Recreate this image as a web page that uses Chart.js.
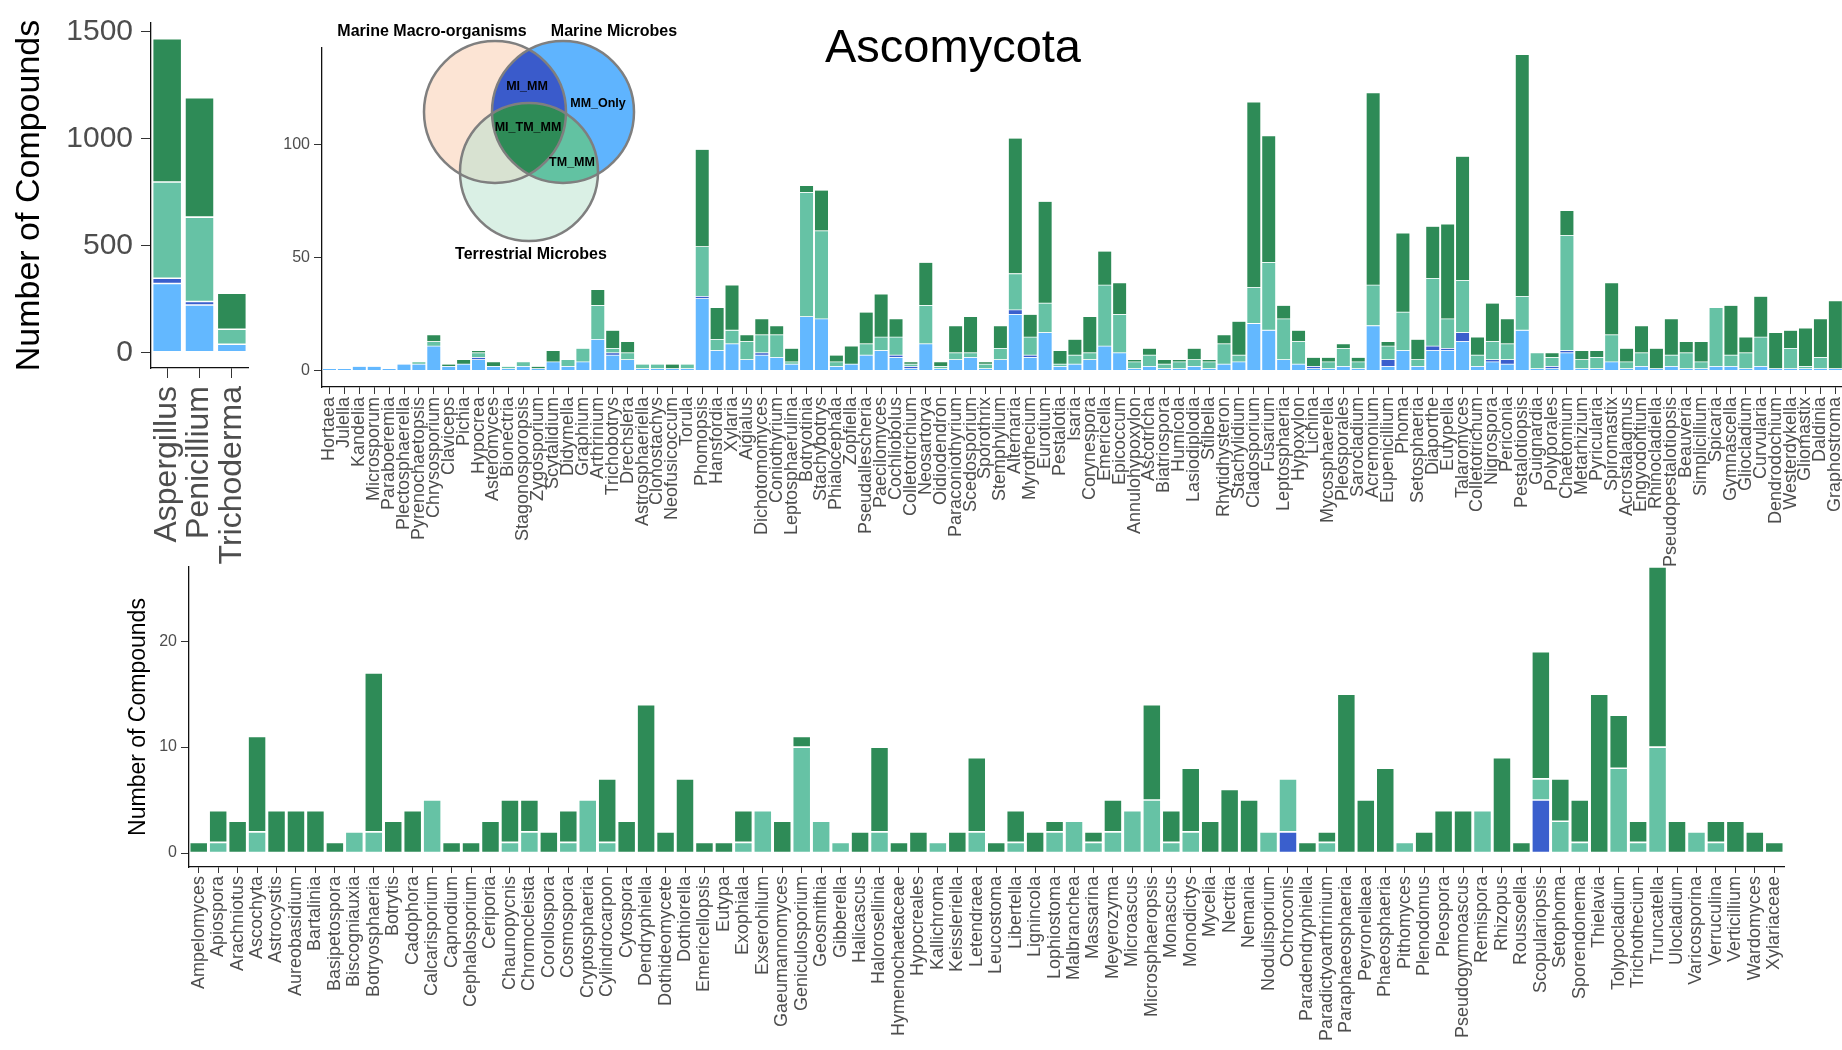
<!DOCTYPE html>
<html>
<head>
<meta charset="utf-8">
<script src="https://cdn.jsdelivr.net/npm/chart.js@4.4.1/dist/chart.umd.min.js"></script>
<style>
  body { margin: 0; width: 1842px; height: 1050px; overflow: hidden; background: #fff; position: relative; font-family: "Liberation Sans", Arial, sans-serif; }
  canvas { position: absolute; }
  #title { position: absolute; left: 953px; top: 45px; transform: translate(-50%, -50%); font-size: 47px; line-height: 1; color: #000; white-space: nowrap; }
  #venn { position: absolute; left: 0; top: 0; }
  #venn text { font-family: "Liberation Sans", Arial, sans-serif; font-weight: bold; fill: #000; }
</style>
</head>
<body>
<canvas id="leftChart" width="290" height="570" style="left:0;top:0;width:290px;height:570px"></canvas>
<canvas id="topChart" width="1630" height="600" style="left:230px;top:0;width:1630px;height:600px"></canvas>
<canvas id="bottomChart" width="1700" height="510" style="left:120px;top:540px;width:1700px;height:510px"></canvas>

<svg id="venn" width="700" height="280">
  <defs>
    <clipPath id="cL"><circle cx="495" cy="112" r="71"/></clipPath>
    <clipPath id="cR"><circle cx="563" cy="112" r="71"/></clipPath>
  </defs>
  <circle cx="495" cy="112" r="71" fill="#fce4d4"/>
  <circle cx="563" cy="112" r="71" fill="#5fb4fe"/>
  <circle cx="529" cy="172" r="69" fill="#daf0e5"/>
  <g clip-path="url(#cL)"><circle cx="563" cy="112" r="71" fill="#3a5bcb"/></g>
  <g clip-path="url(#cL)"><circle cx="529" cy="172" r="69" fill="#d8e2d1"/></g>
  <g clip-path="url(#cR)"><circle cx="529" cy="172" r="69" fill="#62c2a2"/></g>
  <g clip-path="url(#cL)"><g clip-path="url(#cR)"><circle cx="529" cy="172" r="69" fill="#2e8b57"/></g></g>
  <circle cx="495" cy="112" r="71" fill="none" stroke="#7f7f7f" stroke-width="2.5"/>
  <circle cx="563" cy="112" r="71" fill="none" stroke="#7f7f7f" stroke-width="2.5"/>
  <circle cx="529" cy="172" r="69" fill="none" stroke="#7f7f7f" stroke-width="2.5"/>
  <text x="432" y="36" font-size="16" text-anchor="middle">Marine Macro-organisms</text>
  <text x="614" y="36" font-size="16" text-anchor="middle">Marine Microbes</text>
  <text x="531" y="259" font-size="16" text-anchor="middle">Terrestrial Microbes</text>
  <text x="527" y="90" font-size="12.5" text-anchor="middle">MI_MM</text>
  <text x="598" y="107" font-size="12.5" text-anchor="middle">MM_Only</text>
  <text x="528" y="131" font-size="12.5" text-anchor="middle">MI_TM_MM</text>
  <text x="572" y="166" font-size="12.5" text-anchor="middle">TM_MM</text>
</svg>
<div id="title">Ascomycota</div>

<script>
// series, bottom of the stack first
const seriesNames = ['MM_Only', 'MI_MM', 'TM_MM', 'MI_TM_MM'];
const seriesColors = ['#63B8FF', '#3A5FCD', '#66C2A5', '#2E8B57'];

// left panel: the three big genera
const leftGenera = ['Aspergillus', 'Penicillium', 'Trichoderma'];
const leftMMOnly = [322, 222, 38];
const leftMIMM = [25, 16, 0];
const leftTMMM = [450, 395, 70];
const leftMITMMM = [670, 559, 169];
const leftTicks = [0, 500, 1000, 1500];

// top panel
const topGenera = ['Hortaea', 'Julella', 'Kandelia', 'Microsporum', 'Paraboeremia', 'Plectosphaerella',
  'Pyrenochaetopsis', 'Chrysosporium', 'Claviceps', 'Pichia', 'Hypocrea', 'Asteromyces', 'Bionectria',
  'Stagonosporopsis', 'Zygosporium', 'Scytalidium', 'Didymella', 'Graphium', 'Arthrinium', 'Trichobotrys',
  'Drechslera', 'Astrosphaeriella', 'Clonostachys', 'Neofusicoccum', 'Torula', 'Phomopsis', 'Hansfordia',
  'Xylaria', 'Aigialus', 'Dichotomomyces', 'Coniothyrium', 'Leptosphaerulina', 'Botryotinia', 'Stachybotrys',
  'Phialocephala', 'Zopfiella', 'Pseudallescheria', 'Paecilomyces', 'Cochliobolus', 'Colletotrichium',
  'Neosartorya', 'Oidiodendron', 'Paraconiothyrium', 'Scedosporium', 'Sporothrix', 'Stemphylium', 'Alternaria',
  'Myrothecium', 'Eurotium', 'Pestalotia', 'Isaria', 'Corynespora', 'Emericella', 'Epicoccum',
  'Annulohypoxylon', 'Ascotricha', 'Biatriospora', 'Humicola', 'Lasiodiplodia', 'Stilbella', 'Rhytidhysteron',
  'Stachylidium', 'Cladosporium', 'Fusarium', 'Leptosphaeria', 'Hypoxylon', 'Lichina', 'Mycosphaerella',
  'Pleosporales', 'Sarocladium', 'Acremonium', 'Eupenicillium', 'Phoma', 'Setosphaeria', 'Diaporthe',
  'Eutypella', 'Talaromyces', 'Colletotrichum', 'Nigrospora', 'Periconia', 'Pestalotiopsis', 'Guignardia',
  'Polyporales', 'Chaetomium', 'Metarhizium', 'Pyricularia', 'Spiromastix', 'Acrostalagmus', 'Engyodontium',
  'Rhinocladiella', 'Pseudopestalotiopsis', 'Beauveria', 'Simplicillium', 'Spicaria', 'Gymnascella',
  'Gliocladium', 'Curvularia', 'Dendrodochium', 'Westerdykella', 'Gliomastix', 'Daldinia', 'Graphostroma'];
const topMMOnly = [1, 1, 2, 2, 1, 3, 3, 11, 2, 3, 5, 2, 1, 2, 1, 4, 2, 4, 14, 7,
  5, 1, 1, 1, 1, 32, 9, 12, 5, 7, 6, 3, 24, 23, 2, 3, 7, 9, 6, 1,
  12, 1, 5, 6, 1, 5, 25, 6, 17, 2, 3, 5, 11, 8, 1, 2, 1, 1, 2, 1,
  3, 4, 21, 18, 5, 3, 1, 1, 2, 1, 20, 2, 9, 2, 9, 9, 13, 2, 4, 3,
  18, 1, 1, 8, 1, 1, 4, 1, 2, 1, 2, 1, 1, 2, 2, 1, 2, 1, 1, 1, 1, 1];
const topMIMM = [0, 0, 0, 0, 0, 0, 0, 0, 0, 0, 1, 0, 0, 0, 0, 0, 0, 0, 0, 1,
  0, 0, 0, 0, 0, 1, 0, 0, 0, 1, 0, 0, 0, 0, 0, 0, 0, 0, 1, 1,
  0, 0, 0, 0, 0, 0, 2, 1, 0, 0, 0, 0, 0, 0, 0, 0, 0, 0, 0, 0,
  0, 0, 0, 0, 0, 0, 1, 0, 0, 0, 0, 3, 0, 0, 2, 1, 4, 0, 1, 2,
  0, 0, 1, 1, 0, 0, 0, 0, 0, 0, 0, 0, 0, 0, 0, 0, 0, 0, 0, 0, 0, 0];
const topTMMM = [0, 0, 0, 0, 0, 0, 1, 2, 0, 0, 2, 0, 1, 2, 0, 0, 3, 6, 15, 2,
  3, 2, 2, 0, 2, 22, 5, 6, 8, 8, 10, 1, 55, 39, 2, 0, 5, 6, 8, 1,
  17, 1, 3, 2, 2, 5, 16, 8, 13, 1, 4, 3, 27, 17, 3, 5, 2, 3, 3, 3,
  9, 3, 16, 30, 18, 10, 0, 3, 8, 3, 18, 6, 17, 3, 30, 13, 23, 5, 8, 7,
  15, 7, 4, 51, 4, 5, 12, 3, 6, 0, 5, 7, 3, 26, 5, 7, 13, 0, 9, 1, 5, 0];
const topMITMMM = [0, 0, 0, 0, 0, 0, 0, 3, 1, 2, 1, 2, 0, 0, 1, 5, 0, 0, 7, 8,
  5, 0, 0, 2, 0, 43, 14, 20, 3, 7, 4, 6, 3, 18, 3, 8, 14, 19, 8, 1,
  19, 2, 12, 16, 1, 10, 60, 10, 45, 6, 7, 16, 15, 14, 1, 3, 2, 1, 5, 1,
  4, 15, 82, 56, 6, 5, 4, 2, 2, 2, 85, 2, 35, 9, 23, 42, 55, 8, 17, 11,
  107, 0, 2, 11, 4, 3, 23, 6, 12, 9, 16, 5, 9, 0, 22, 7, 18, 16, 8, 17, 17, 30];
const topTicks = [0, 50, 100];

// bottom panel: no MM_Only compounds here
const bottomGenera = ['Ampelomyces', 'Apiospora', 'Arachniotus', 'Ascochyta', 'Astrocystis', 'Aureobasidium',
  'Bartalinia', 'Basipetospora', 'Biscogniauxia', 'Botryosphaeria', 'Botrytis', 'Cadophora', 'Calcarisporium',
  'Capnodium', 'Cephalosporium', 'Ceriporia', 'Chaunopycnis', 'Chromocleista', 'Corollospora', 'Cosmospora',
  'Cryptosphaeria', 'Cylindrocarpon', 'Cytospora', 'Dendryphiella', 'Dothideomycete', 'Dothiorella',
  'Emericellopsis', 'Eutypa', 'Exophiala', 'Exserohilum', 'Gaeumannomyces', 'Geniculosporium', 'Geosmithia',
  'Gibberella', 'Halicascus', 'Halorosellinia', 'Hymenochaetaceae', 'Hypocreales', 'Kallichroma',
  'Keissleriella', 'Letendraea', 'Leucostoma', 'Libertella', 'Lignincola', 'Lophiostoma', 'Malbranchea',
  'Massarina', 'Meyerozyma', 'Microascus', 'Microsphaeropsis', 'Monascus', 'Monodictys', 'Mycelia', 'Nectria',
  'Nemania', 'Nodulisporium', 'Ochroconis', 'Paradendryphiella', 'Paradictyoarthrinium', 'Paraphaeosphaeria',
  'Peyronellaea', 'Phaeosphaeria', 'Pithomyces', 'Plenodomus', 'Pleospora', 'Pseudogymnoascus', 'Remispora',
  'Rhizopus', 'Roussoella', 'Scopulariopsis', 'Setophoma', 'Sporendonema', 'Thielavia', 'Tolypocladium',
  'Trichothecium', 'Truncatella', 'Ulocladium', 'Varicosporina', 'Verruculina', 'Verticillium', 'Wardomyces',
  'Xylariaceae'];
const bottomMIMM = [0, 0, 0, 0, 0, 0, 0, 0, 0, 0, 0, 0, 0, 0, 0, 0, 0, 0, 0, 0,
  0, 0, 0, 0, 0, 0, 0, 0, 0, 0, 0, 0, 0, 0, 0, 0, 0, 0, 0, 0,
  0, 0, 0, 0, 0, 0, 0, 0, 0, 0, 0, 0, 0, 0, 0, 0, 2, 0, 0, 0,
  0, 0, 0, 0, 0, 0, 0, 0, 0, 5, 0, 0, 0, 0, 0, 0, 0, 0, 0, 0, 0, 0];
const bottomTMMM = [0, 1, 0, 2, 0, 0, 0, 0, 2, 2, 0, 0, 5, 0, 0, 0, 1, 2, 0, 1,
  5, 1, 0, 0, 0, 0, 0, 0, 1, 4, 0, 10, 3, 1, 0, 2, 0, 0, 1, 0,
  2, 0, 1, 0, 2, 3, 1, 2, 4, 5, 1, 2, 0, 0, 0, 2, 5, 0, 1, 0,
  0, 0, 1, 0, 0, 0, 4, 0, 0, 2, 3, 1, 0, 8, 1, 10, 0, 2, 1, 0, 0, 0];
const bottomMITMMM = [1, 3, 3, 9, 4, 4, 4, 1, 0, 15, 3, 4, 0, 1, 1, 3, 4, 3, 2, 3,
  0, 6, 3, 14, 2, 7, 1, 1, 3, 0, 3, 1, 0, 0, 2, 8, 1, 2, 0, 2,
  7, 1, 3, 2, 1, 0, 1, 3, 0, 9, 3, 6, 3, 6, 5, 0, 0, 1, 1, 15,
  5, 8, 0, 2, 4, 4, 0, 9, 1, 12, 4, 4, 15, 5, 2, 17, 3, 0, 2, 3, 2, 1];
const bottomTicks = [0, 10, 20];

const FONT = '"Liberation Sans", Arial, sans-serif';

function makeDatasets(seriesList, names, colors, barPct, border) {
    return seriesList.map((arr, i) => ({
        label: names[i],
        data: arr.map(v => v || null),
        backgroundColor: colors[i],
        borderColor: 'rgba(255,255,255,0.85)',
        borderWidth: border,
        borderSkipped: false,
        barPercentage: barPct,
        categoryPercentage: 1,
    }));
}

function makeChart(id, labels, datasets, cfg) {
    const ctx = document.getElementById(id).getContext('2d');
    return new Chart(ctx, {
        type: 'bar',
        data: { labels: labels, datasets: datasets },
        options: {
            responsive: false,
            animation: false,
            devicePixelRatio: 1,
            layout: { padding: { top: cfg.padTop, right: cfg.padRight, left: 0, bottom: 0 } },
            plugins: { legend: { display: false }, tooltip: { enabled: false } },
            scales: {
                x: {
                    stacked: true,
                    offset: true,
                    grid: { display: true, drawOnChartArea: false, offset: false, tickLength: cfg.xTickLen, color: '#333' },
                    border: { display: true, color: '#111', width: 1.3 },
                    ticks: {
                        autoSkip: false, maxRotation: 90, minRotation: 90, padding: cfg.xPad,
                        color: '#4d4d4d', font: { family: FONT, size: cfg.xFont }
                    },
                    afterFit: s => { s.height = cfg.xHeight; }
                },
                y: {
                    stacked: true,
                    min: cfg.yMin,
                    max: cfg.yMax,
                    grid: { display: true, drawOnChartArea: false, tickLength: cfg.yTickLen, color: '#333' },
                    border: { display: true, color: '#111', width: 1.3 },
                    ticks: {
                        padding: cfg.yPad, color: '#4d4d4d',
                        font: { family: FONT, size: cfg.yFont, lineHeight: 1 },
                        callback: v => String(v)
                    },
                    title: cfg.yTitle ? {
                        display: true, text: cfg.yTitle, color: '#000',
                        font: { family: FONT, size: cfg.yTitleFont },
                        padding: { top: cfg.yTitlePad, bottom: 0 }
                    } : { display: false },
                    afterBuildTicks: s => { s.ticks = cfg.yTicks.map(v => ({ value: v })); },
                    afterFit: s => { s.width = cfg.yWidth; }
                }
            }
        }
    });
}

// Left panel
makeChart('leftChart', leftGenera,
    makeDatasets([leftMMOnly, leftMIMM, leftTMMM, leftMITMMM], seriesNames, seriesColors, 0.9, 0.8),
    { padTop: 15, padRight: 42, xHeight: 202, xTickLen: 10, xPad: 8, xFont: 32,
      yMin: -73, yMax: 1541, yTickLen: 10, yPad: 8, yFont: 30, yTicks: leftTicks, yWidth: 151,
      yTitle: 'Number of Compounds', yTitleFont: 34, yTitlePad: 9 });

// Top panel
makeChart('topChart', topGenera,
    makeDatasets([topMMOnly, topMIMM, topTMMM, topMITMMM], seriesNames, seriesColors, 0.93, 0.4),
    { padTop: 48, padRight: 16, xHeight: 213, xTickLen: 7, xPad: 3, xFont: 18,
      yMin: -7.1, yMax: 142.9, yTickLen: 8, yPad: 4, yFont: 16, yTicks: topTicks, yWidth: 92 });

// Bottom panel
makeChart('bottomChart', bottomGenera,
    makeDatasets([bottomMIMM, bottomTMMM, bottomMITMMM], seriesNames.slice(1), seriesColors.slice(1), 0.93, 0.8),
    { padTop: 27, padRight: 36, xHeight: 183, xTickLen: 6, xPad: 3, xFont: 18,
      yMin: -1.32, yMax: 27, yTickLen: 8, yPad: 4, yFont: 16, yTicks: bottomTicks, yWidth: 69,
      yTitle: 'Number of Compounds', yTitleFont: 23, yTitlePad: 5 });
</script>
</body>
</html>
